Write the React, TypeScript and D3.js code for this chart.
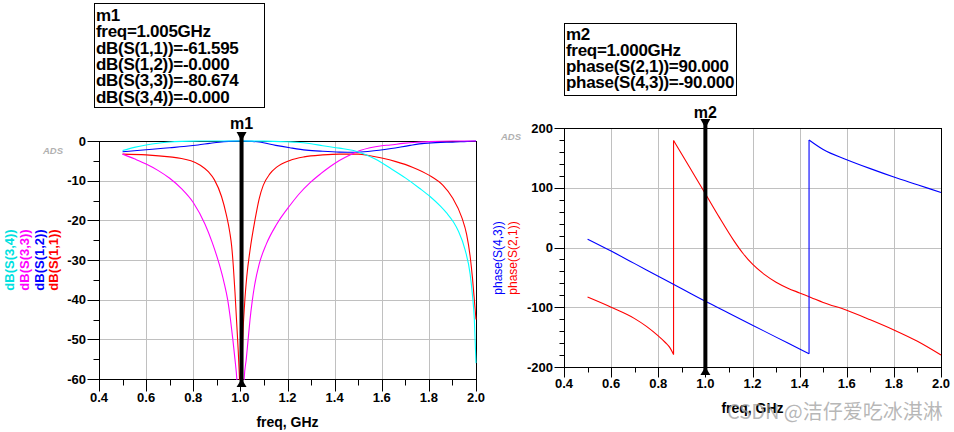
import { useEffect, useRef } from "react";
import * as d3 from "d3";

// ---- left chart: dB(S) vs freq (GHz)
const s11Freq = [0.5, 0.6, 0.7, 0.75, 0.79, 0.83, 0.865, 0.89, 0.92, 0.94, 0.955, 0.963, 0.97, 0.977, 0.984, 0.991, 0.996, 1.0, 1.005, 1.01, 1.018, 1.027, 1.041, 1.062, 1.08, 1.097, 1.125, 1.154, 1.21, 1.27, 1.35, 1.42, 1.5, 1.55, 1.6, 1.66, 1.73, 1.8, 1.86, 1.9, 1.94, 1.96, 1.975, 1.985, 1.995, 2.0];
const s11Db = [-3.3, -3.5, -4.0, -4.4, -5.0, -6.1, -7.8, -9.8, -14, -18.5, -23, -26.5, -31.5, -38, -45.5, -53, -59.5, -66, -61.6, -50, -41, -34.3, -27.5, -19.9, -14.5, -11.2, -8.3, -6.6, -4.9, -4.0, -3.5, -3.3, -3.3, -3.7, -4.3, -5.2, -6.6, -8.6, -11.2, -14.3, -19.3, -23.5, -29, -34.5, -41.5, -45];

const s12Freq = [0.5, 0.55, 0.6, 0.65, 0.7, 0.76, 0.82, 0.87, 0.91, 0.95, 1.0, 1.05, 1.08, 1.15, 1.21, 1.28, 1.35, 1.42, 1.49, 1.55, 1.64, 1.72, 1.78, 1.85, 1.9, 1.95, 2.0];
const s12Db = [-2.7, -2.45, -2.2, -1.95, -1.7, -1.4, -1.0, -0.6, -0.3, -0.1, 0, -0.1, -0.25, -1.1, -1.7, -2.3, -2.6, -2.8, -2.85, -2.6, -1.9, -1.1, -0.6, -0.35, -0.3, -0.15, 0];

const s33Freq = [0.5, 0.55, 0.6, 0.65, 0.7, 0.75, 0.8, 0.85, 0.88, 0.91, 0.93, 0.946, 0.958, 0.968, 0.977, 0.985, 0.995, 1.0, 1.005, 1.01, 1.016, 1.025, 1.033, 1.041, 1.05, 1.06, 1.08, 1.11, 1.154, 1.211, 1.25, 1.296, 1.34, 1.38, 1.42, 1.465, 1.508, 1.55, 1.6, 1.636, 1.69, 1.749, 1.8, 1.85, 1.9, 2.0];
const s33Db = [-3.3, -4.5, -5.8, -7.4, -9.4, -12.0, -15.5, -21, -25.5, -31, -35.5, -40, -45, -50, -55, -60, -72, -85, -80.7, -70, -60, -55, -50, -45, -40.5, -36.5, -31, -26, -21, -16.2, -13.3, -10.5, -8.3, -6.5, -4.9, -3.5, -2.4, -1.7, -1.2, -1.0, -0.6, -0.3, -0.15, -0.05, 0, 0];

const s34Freq = [0.5, 0.55, 0.6, 0.65, 0.7, 0.75, 0.8, 0.9, 1.0, 1.1, 1.2, 1.24, 1.3, 1.35, 1.42, 1.48, 1.53, 1.57, 1.64, 1.7, 1.76, 1.805, 1.85, 1.876, 1.905, 1.925, 1.954, 1.975, 1.986, 1.993, 2.0];
const s34Db = [-2.4, -1.6, -1.0, -0.55, -0.25, -0.1, -0.03, 0, 0, -0.03, -0.2, -0.3, -0.7, -1.2, -1.8, -2.4, -3.4, -4.5, -7.0, -9.3, -11.9, -14.0, -16.5, -18.2, -20.5, -22.7, -27.5, -33.5, -39.5, -45, -56];

// ---- right chart: phase (deg), split at the wrap-around jumps
const s21FreqA = [0.5, 0.6, 0.7, 0.75, 0.8, 0.83, 0.85, 0.865];
const s21PhA = [-83, -100, -119, -132, -148, -159, -168, -179];
const s21FreqB = [0.865, 0.9, 0.95, 1.0, 1.06, 1.12, 1.16, 1.2, 1.25, 1.3, 1.35, 1.4, 1.45, 1.5, 1.6, 1.7, 1.8, 1.9, 2.0];
const s21PhB = [179, 156, 123, 90, 50, 12, -10, -28, -45, -58, -68, -76, -84, -92, -105, -121, -138, -157, -180];

const s43FreqA = [0.5, 0.6, 0.7, 0.8, 0.9, 1.0, 1.1, 1.2, 1.3, 1.4, 1.44];
const s43PhA = [14, -6, -27, -48, -69, -90, -110, -130, -150, -170, -178];
const s43FreqB = [1.44, 1.5, 1.6, 1.7, 1.8, 1.9, 2.0];
const s43PhB = [180, 164, 147, 132, 118, 105, 92];

const xTicks = [0.4, 0.6, 0.8, 1.0, 1.2, 1.4, 1.6, 1.8, 2.0];
const xTickLabels = ["0.4", "0.6", "0.8", "1.0", "1.2", "1.4", "1.6", "1.8", "2.0"];
const xMinor = [0.5, 0.7, 0.9, 1.1, 1.3, 1.5, 1.7, 1.9];
const dbTicks = [0, -10, -20, -30, -40, -50, -60];
const dbMinor = [-5, -15, -25, -35, -45, -55];
const phTicks = [200, 100, 0, -100, -200];
const phMinor = [180, 160, 140, 120, 80, 60, 40, 20, -20, -40, -60, -80, -120, -140, -160, -180];

const m1Lines = ["m1", "freq=1.005GHz", "dB(S(1,1))=-61.595", "dB(S(1,2))=-0.000", "dB(S(3,3))=-80.674", "dB(S(3,4))=-0.000"];
const m2Lines = ["m2", "freq=1.000GHz", "phase(S(2,1))=90.000", "phase(S(4,3))=-90.000"];
const m1Freq = 1.005;
const m2Freq = 1.0;

const FONT = "'Liberation Sans', Arial, Helvetica, sans-serif";

type Sel = d3.Selection<SVGSVGElement, unknown, null, undefined>;
type Lin = d3.ScaleLinear<number, number>;

const px = (v: number) => Math.round(v) + 0.5;

function drawFrame(svg: Sel, x: Lin, y: Lin, yTicks: number[], yMinor: number[], major: number, minor: number, xLabelGap: number, axisLabelY: number, id: string) {
  const [x0, x1] = x.range();
  const [yb, yt] = y.range();
  const g = svg.append("g");

  // grid
  g.append("g").selectAll("line").data(xTicks.slice(1, -1)).join("line")
    .attr("x1", (d) => px(x(d))).attr("x2", (d) => px(x(d)))
    .attr("y1", yt).attr("y2", yb).attr("stroke", "#c0c0c0");
  g.append("g").selectAll("line").data(yTicks.slice(1, -1)).join("line")
    .attr("y1", (d) => px(y(d))).attr("y2", (d) => px(y(d)))
    .attr("x1", x0).attr("x2", x1).attr("stroke", "#c0c0c0");

  // frame
  g.append("rect").attr("x", px(x0)).attr("y", px(yt))
    .attr("width", Math.round(x1 - x0)).attr("height", Math.round(yb - yt))
    .attr("fill", "none").attr("stroke", "#000");

  // y ticks
  g.append("g").selectAll("line").data(yTicks).join("line")
    .attr("x1", px(x0) - major).attr("x2", px(x0))
    .attr("y1", (d) => px(y(d))).attr("y2", (d) => px(y(d))).attr("stroke", "#000");
  g.append("g").selectAll("line").data(yMinor).join("line")
    .attr("x1", px(x0) - minor).attr("x2", px(x0))
    .attr("y1", (d) => px(y(d))).attr("y2", (d) => px(y(d))).attr("stroke", "#000");
  g.append("g").selectAll("text").data(yTicks).join("text")
    .attr("x", x0 - major - 1).attr("y", (d) => y(d) + 4.5)
    .attr("text-anchor", "end").attr("font-family", FONT).attr("font-weight", "bold")
    .attr("font-size", 13).text((d) => String(d));

  // x ticks
  g.append("g").selectAll("line").data(xTicks).join("line")
    .attr("x1", (d) => px(x(d))).attr("x2", (d) => px(x(d)))
    .attr("y1", px(yb)).attr("y2", px(yb) + major).attr("stroke", "#000");
  g.append("g").selectAll("line").data(xMinor).join("line")
    .attr("x1", (d) => px(x(d))).attr("x2", (d) => px(x(d)))
    .attr("y1", px(yb)).attr("y2", px(yb) + minor).attr("stroke", "#000");
  g.append("g").selectAll("text").data(xTicks).join("text")
    .attr("x", (d) => x(d)).attr("y", yb + xLabelGap)
    .attr("text-anchor", "middle").attr("font-family", FONT).attr("font-weight", "bold")
    .attr("font-size", 13).text((_, i) => xTickLabels[i]);

  g.append("text").attr("x", (x0 + x1) / 2).attr("y", axisLabelY)
    .attr("text-anchor", "middle").attr("font-family", FONT).attr("font-weight", "bold")
    .attr("font-size", 14).text("freq, GHz");

  svg.append("clipPath").attr("id", id).append("rect")
    .attr("x", x0).attr("y", yt - 1).attr("width", x1 - x0 + 1).attr("height", yb - yt + 2);
}

function drawCurve(svg: Sel, x: Lin, y: Lin, fs: number[], vs: number[], color: string, clip: string) {
  const pts: [number, number][] = fs.map((f, i) => [f, vs[i]]);
  const line = d3.line<[number, number]>()
    .x((d) => x(d[0])).y((d) => y(d[1]))
    .curve(d3.curveMonotoneX);
  svg.append("path").attr("d", line(pts)).attr("fill", "none")
    .attr("stroke", color).attr("stroke-width", 1.1).attr("clip-path", `url(#${clip})`);
}

function drawMarker(svg: Sel, x: Lin, y: Lin, f: number, name: string, labelGap: number) {
  const mx = x(f);
  const [yb, yt] = y.range();
  svg.append("line").attr("x1", mx).attr("x2", mx).attr("y1", yt - 8).attr("y2", yb + 7)
    .attr("stroke", "#000").attr("stroke-width", 4);
  svg.append("path").attr("d", `M${mx - 5},${yt - 9}L${mx + 5},${yt - 9}L${mx},${yt}Z`).attr("fill", "#000");
  svg.append("path").attr("d", `M${mx},${yb}L${mx - 5},${yb + 8}L${mx + 5},${yb + 8}Z`).attr("fill", "#000");
  svg.append("text").attr("x", mx).attr("y", yt - labelGap).attr("text-anchor", "middle")
    .attr("font-family", FONT).attr("font-weight", "bold").attr("font-size", 16).text(name);
}

function drawBox(svg: Sel, bx: number, by: number, bw: number, bh: number, lines: string[], firstBase: number, step: number) {
  svg.append("rect").attr("x", bx + 0.5).attr("y", by + 0.5).attr("width", bw).attr("height", bh)
    .attr("fill", "#fff").attr("stroke", "#000");
  svg.append("g").selectAll("text").data(lines).join("text")
    .attr("x", bx + 2).attr("y", (_, i) => firstBase + i * step)
    .attr("font-family", FONT).attr("font-weight", "bold").attr("font-size", 17)
    .attr("letter-spacing", -0.3).text((d) => d);
}

function rotLabel(svg: Sel, x: number, y: number, txt: string, color: string, bold: boolean, size: number) {
  svg.append("text").attr("transform", `translate(${x},${y}) rotate(-90)`)
    .attr("text-anchor", "middle").attr("font-family", FONT)
    .attr("font-weight", bold ? "bold" : "normal").attr("font-size", size)
    .attr("fill", color).text(txt);
}

export default function App() {
  const svgRef = useRef<SVGSVGElement | null>(null);

  useEffect(() => {
    if (!svgRef.current) return;
    const svg = d3.select(svgRef.current);
    svg.selectAll("*").remove();

    // left plot
    const xL = d3.scaleLinear().domain([0.4, 2.0]).range([99, 476]);
    const yL = d3.scaleLinear().domain([-60, 0]).range([379, 141]);
    drawFrame(svg, xL, yL, dbTicks, dbMinor, 12, 6, 23, 427, "clipL");
    drawCurve(svg, xL, yL, s11Freq, s11Db, "#ff0000", "clipL");
    drawCurve(svg, xL, yL, s12Freq, s12Db, "#0000ff", "clipL");
    drawCurve(svg, xL, yL, s33Freq, s33Db, "#ff00ff", "clipL");
    drawCurve(svg, xL, yL, s34Freq, s34Db, "#00ffff", "clipL");
    drawMarker(svg, xL, yL, m1Freq, "m1", 12);

    rotLabel(svg, 13.5, 260, "dB(S(3,4))", "#00e0e0", true, 13);
    rotLabel(svg, 28.5, 260, "dB(S(3,3))", "#ff00ff", true, 13);
    rotLabel(svg, 43.5, 260, "dB(S(1,2))", "#0000ff", true, 13);
    rotLabel(svg, 57.5, 260, "dB(S(1,1))", "#ff0000", true, 13);

    // right plot
    const xR = d3.scaleLinear().domain([0.4, 2.0]).range([564, 941]);
    const yR = d3.scaleLinear().domain([-200, 200]).range([367, 128]);
    drawFrame(svg, xR, yR, phTicks, phMinor, 10, 5, 21, 413, "clipR");
    drawCurve(svg, xR, yR, s21FreqA, s21PhA, "#ff0000", "clipR");
    drawCurve(svg, xR, yR, s21FreqB, s21PhB, "#ff0000", "clipR");
    // vertical wrap segments
    svg.append("line").attr("x1", xR(0.865)).attr("x2", xR(0.865)).attr("y1", yR(-179)).attr("y2", yR(179))
      .attr("stroke", "#ff0000").attr("stroke-width", 1.1);
    drawCurve(svg, xR, yR, s43FreqA, s43PhA, "#0000ff", "clipR");
    drawCurve(svg, xR, yR, s43FreqB, s43PhB, "#0000ff", "clipR");
    svg.append("line").attr("x1", xR(1.44)).attr("x2", xR(1.44)).attr("y1", yR(-178)).attr("y2", yR(180))
      .attr("stroke", "#0000ff").attr("stroke-width", 1.1);
    drawMarker(svg, xR, yR, m2Freq, "m2", 10);

    rotLabel(svg, 502, 258, "phase(S(4,3))", "#0000ff", false, 12);
    rotLabel(svg, 517, 258, "phase(S(2,1))", "#ff0000", false, 12);

    // ADS tags
    svg.append("text").attr("x", 43).attr("y", 154).attr("font-family", FONT).attr("font-style", "italic")
      .attr("font-weight", "bold").attr("font-size", 9.5).attr("fill", "#b0b0b0").text("ADS");
    svg.append("text").attr("x", 501).attr("y", 140).attr("font-family", FONT).attr("font-style", "italic")
      .attr("font-weight", "bold").attr("font-size", 9.5).attr("fill", "#b0b0b0").text("ADS");

    // marker readouts
    drawBox(svg, 94, 3, 170, 104, m1Lines, 21, 16.3);
    drawBox(svg, 564, 23, 172, 72, m2Lines, 39.5, 16.3);

    // watermark
    svg.append("text").attr("x", 727).attr("y", 419)
      .attr("font-family", "'Noto Sans CJK SC', 'Noto Sans', sans-serif").attr("font-size", 20)
      .attr("fill", "#a0a0a0").attr("fill-opacity", 0.75).text("CSDN @洁仔爱吃冰淇淋");
  }, []);

  return (
    <svg ref={svgRef} width={954} height={432}
      style={{ position: "absolute", left: 0, top: 0, background: "#fff" }} />
  );
}
